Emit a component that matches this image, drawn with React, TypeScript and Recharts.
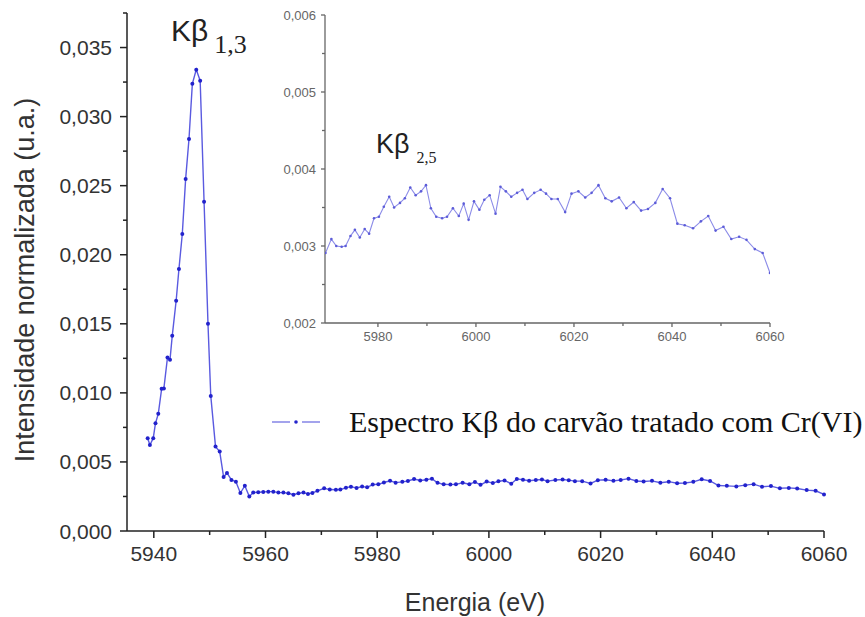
import React from 'react';
import { LineChart, Line, XAxis, YAxis } from 'recharts';

// energia (eV) e intensidade normalizada
const energy = [
  5938.9, 5939.3, 5939.9, 5940.3, 5940.8, 5941.4, 5941.8, 5942.45, 5942.9, 5943.3,
  5944.0, 5944.5, 5945.1, 5945.7, 5946.3, 5946.9, 5947.6, 5948.3, 5949.0, 5949.7,
  5950.2, 5951.05, 5951.8, 5952.5, 5953.1, 5953.9, 5954.7, 5955.5, 5956.3, 5957.1,
  5957.8, 5958.7, 5959.6, 5960.5, 5961.4, 5962.3, 5963.2, 5964.1, 5965.0, 5965.9,
  5966.8, 5967.6, 5968.4, 5969.3, 5970.5, 5971.5, 5972.6, 5973.4, 5974.4, 5975.3,
  5976.3, 5977.3, 5978.2, 5979.2, 5980.2, 5981.2, 5982.3, 5983.3, 5984.5, 5985.5,
  5986.6, 5987.7, 5988.8, 5989.8, 5990.8, 5991.9, 5993.1, 5994.1, 5995.3, 5996.5,
  5997.5, 5998.5, 5999.6, 6000.7, 6001.7, 6002.8, 6004.0, 6005.0, 6006.1, 6007.2,
  6008.4, 6009.5, 6010.5, 6011.9, 6013.2, 6014.3, 6015.4, 6016.7, 6018.2, 6019.5,
  6020.9, 6022.3, 6023.6, 6025.0, 6026.4, 6027.7, 6029.2, 6030.7, 6032.2, 6033.7,
  6035.1, 6036.6, 6038.1, 6039.6, 6041.1, 6042.6, 6044.3, 6045.9, 6047.4, 6048.9,
  6050.5, 6052.1, 6053.7, 6055.2, 6056.9, 6058.5, 6060.0,
];
const intensity = [
  0.00672, 0.00623, 0.00672, 0.0078, 0.00848, 0.01029, 0.01031, 0.01256, 0.01239, 0.01413,
  0.01667, 0.01897, 0.0215, 0.02549, 0.02838, 0.03237, 0.0334, 0.0326, 0.02384, 0.015,
  0.00978, 0.00611, 0.00575, 0.00391, 0.0042, 0.0037, 0.00357, 0.00275, 0.00328, 0.00249,
  0.00278, 0.00281, 0.00283, 0.00285, 0.00285, 0.00278, 0.00278, 0.00273, 0.00263, 0.00273,
  0.00278, 0.00268, 0.00276, 0.00291, 0.00309, 0.003, 0.00299, 0.003, 0.00313, 0.00321,
  0.00311, 0.00322, 0.00316, 0.00336, 0.00338, 0.00351, 0.00364, 0.0035, 0.00356, 0.00362,
  0.00376, 0.00366, 0.00371, 0.00379, 0.00349, 0.00338, 0.00336, 0.00338, 0.00349, 0.00339,
  0.00355, 0.00334, 0.00358, 0.00347, 0.0036, 0.00366, 0.00342, 0.00377, 0.00371, 0.00364,
  0.00369, 0.00373, 0.00361, 0.00369, 0.00373, 0.00368, 0.00361, 0.00361, 0.00344, 0.00368,
  0.00371, 0.00363, 0.00369, 0.00379, 0.00362, 0.00358, 0.00363, 0.00349, 0.00357, 0.00346,
  0.00348, 0.00356, 0.00374, 0.00362, 0.00329, 0.00327, 0.00323, 0.00332, 0.00339, 0.0032,
  0.00325, 0.00309, 0.00312, 0.00308, 0.00296, 0.00291, 0.00265,
];

const mainXMajor = [5940, 5960, 5980, 6000, 6020, 6040, 6060];
const mainXMinor = [5950, 5970, 5990, 6010, 6030, 6050];
const mainYMajor = [0, 0.005, 0.01, 0.015, 0.02, 0.025, 0.03, 0.035];
const mainYMinor = [0.0025, 0.0075, 0.0125, 0.0175, 0.0225, 0.0275, 0.0325, 0.0375];

const insetXMajor = [5980, 6000, 6020, 6040, 6060];
const insetXMinor = [5990, 6010, 6030, 6050];
const insetYMajor = [0.002, 0.003, 0.004, 0.005, 0.006];
const insetYMinor = [0.0025, 0.0035, 0.0045, 0.0055];

const spectrum = energy.map((e, i) => ({ e, v: intensity[i] }));
const insetSpectrum = spectrum.filter((d) => d.e >= 5969.2);

const isIn = (list: number[], v: number) => list.some((m) => Math.abs(m - v) < 1e-9);
const fmtY = (v: number) => v.toFixed(3).replace('.', ',');

function makeTick(side: 'left' | 'bottom', major: number[], o: any) {
  return (props: any) => {
    const { x, y, payload } = props;
    const big = isIn(major, payload.value);
    const len = big ? o.major : o.minor;
    const label = side === 'left' ? fmtY(payload.value) : String(payload.value);
    if (side === 'left') {
      return (
        <g>
          <line x1={x} y1={y} x2={x - len} y2={y} stroke={o.color} strokeWidth={o.sw} />
          {big && (
            <text x={x - o.major - o.gap} y={y} dy="0.36em" textAnchor="end"
              fontFamily="Liberation Sans, Arial" fontSize={o.font} fill={o.text}>{label}</text>
          )}
        </g>
      );
    }
    return (
      <g>
        <line x1={x} y1={y} x2={x} y2={y + len} stroke={o.color} strokeWidth={o.sw} />
        {big && (
          <text x={x} y={y + o.major + o.gap} dy="0.72em" textAnchor="middle"
            fontFamily="Liberation Sans, Arial" fontSize={o.font} fill={o.text}>{label}</text>
        )}
      </g>
    );
  };
}

const mainOpts = { major: 7, minor: 4, gap: 8, font: 21, color: '#222', text: '#333', sw: 1.5 };
const insetOpts = { major: 4, minor: 3, gap: 5, font: 13, color: '#666', text: '#666', sw: 1.3 };

export default function App() {
  return (
    <div style={{ position: 'absolute', left: 0, top: 0, width: 865, height: 617, background: '#fff', overflow: 'hidden' }}>
      <LineChart width={865} height={617} data={spectrum} margin={{ top: 13, right: 41, bottom: 0, left: 0 }}>
        <XAxis dataKey="e" type="number" domain={[5935.2, 6060]} ticks={[...mainXMajor, ...mainXMinor]}
          interval={0} height={86} tickSize={0} tickMargin={0}
          axisLine={{ stroke: '#222', strokeWidth: 1.5 }} tickLine={false}
          tick={makeTick('bottom', mainXMajor, mainOpts)} />
        <YAxis type="number" domain={[0, 0.0375]} ticks={[...mainYMajor, ...mainYMinor]}
          interval={0} width={127} tickSize={0} tickMargin={0}
          axisLine={{ stroke: '#222', strokeWidth: 1.5 }} tickLine={false}
          tick={makeTick('left', mainYMajor, mainOpts)} />
        <Line type="linear" dataKey="v" stroke="#5a5ae0" strokeWidth={1.4}
          dot={{ r: 2, fill: '#2222cc', stroke: 'none' }} activeDot={false} isAnimationActive={false} />
      </LineChart>

      <div style={{ position: 'absolute', left: 270, top: 0 }}>
        <LineChart width={530} height={350} data={insetSpectrum} margin={{ top: 15, right: 30, bottom: 0, left: 0 }}>
          <XAxis dataKey="e" type="number" domain={[5969.2, 6060]} ticks={[...insetXMajor, ...insetXMinor]}
            interval={0} height={27} tickSize={0} tickMargin={0} allowDataOverflow
            axisLine={{ stroke: '#666', strokeWidth: 1.3 }} tickLine={false}
            tick={makeTick('bottom', insetXMajor, insetOpts)} />
          <YAxis type="number" domain={[0.002, 0.006]} ticks={[...insetYMajor, ...insetYMinor]}
            interval={0} width={55} tickSize={0} tickMargin={0} allowDataOverflow
            axisLine={{ stroke: '#666', strokeWidth: 1.3 }} tickLine={false}
            tick={makeTick('left', insetYMajor, insetOpts)} />
          <Line type="linear" dataKey="v" stroke="#8c8ce8" strokeWidth={1.1}
            dot={{ r: 1.3, fill: '#5c5cd8', stroke: 'none' }} activeDot={false} isAnimationActive={false} />
        </LineChart>
      </div>

      {/* anotações */}
      <div style={{ position: 'absolute', left: 171, top: 14, whiteSpace: 'nowrap', color: '#222' }}>
        <span style={{ fontFamily: 'Liberation Sans, Arial', fontSize: 30 }}>Kβ</span>
        <span style={{ fontFamily: 'Liberation Serif, Times New Roman', fontSize: 26, marginLeft: 6, position: 'relative', top: 12 }}>1,3</span>
      </div>
      <div style={{ position: 'absolute', left: 376, top: 129, whiteSpace: 'nowrap', color: '#222' }}>
        <span style={{ fontFamily: 'Liberation Sans, Arial', fontSize: 27 }}>Kβ</span>
        <span style={{ fontFamily: 'Liberation Serif, Times New Roman', fontSize: 16, marginLeft: 7, position: 'relative', top: 10 }}>2,5</span>
      </div>

      {/* legenda */}
      <div style={{ position: 'absolute', left: 270, top: 402, display: 'flex', alignItems: 'center', whiteSpace: 'nowrap' }}>
        <svg width={52} height={40}>
          <line x1={2} y1={20} x2={20} y2={20} stroke="#8c8ce8" strokeWidth={1.6} />
          <circle cx={26} cy={20} r={1.8} fill="#2424cc" />
          <line x1={32} y1={20} x2={50} y2={20} stroke="#8c8ce8" strokeWidth={1.6} />
        </svg>
        <span style={{ fontFamily: 'Liberation Serif, Times New Roman', fontSize: 30, color: '#111', marginLeft: 27 }}>
          Espectro Kβ do carvão tratado com Cr(VI)
        </span>
      </div>

      {/* títulos dos eixos */}
      <div style={{ position: 'absolute', left: 475, top: 602, transform: 'translate(-50%,-50%)', whiteSpace: 'nowrap',
        fontFamily: 'Liberation Sans, Arial', fontSize: 25, color: '#333' }}>Energia (eV)</div>
      <div style={{ position: 'absolute', left: 25, top: 280, transform: 'translate(-50%,-50%) rotate(-90deg)', whiteSpace: 'nowrap',
        fontFamily: 'Liberation Sans, Arial', fontSize: 27, color: '#333' }}>Intensidade normalizada (u.a.)</div>
    </div>
  );
}
